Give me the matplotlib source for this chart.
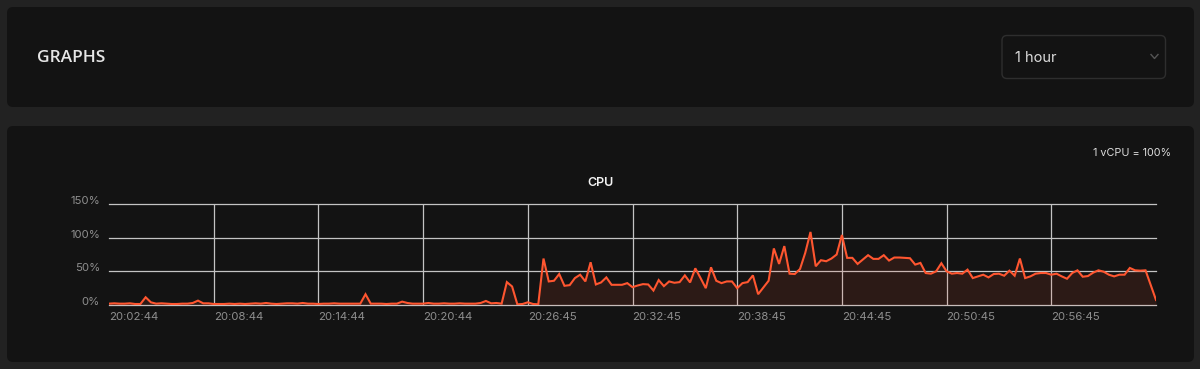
import matplotlib
matplotlib.use('Agg')
import matplotlib.pyplot as plt
from matplotlib.patches import FancyBboxPatch
from matplotlib.lines import Line2D
from matplotlib.transforms import IdentityTransform

# ---------------- data ----------------
title = "CPU"
header = "GRAPHS"
range_label = "1 hour"
note = "1 vCPU = 100%"

time_labels = ["20:02:44", "20:08:44", "20:14:44", "20:20:44", "20:26:45",
               "20:32:45", "20:38:45", "20:44:45", "20:50:45", "20:56:45"]
label_step = 20

y_ticks = [0, 50, 100, 150]
y_labels = ["0%", "50%", "100%", "150%"]

cpu_values = [
    2, 2.5, 2, 2, 2.5, 1.5, 1.5, 11.5, 4, 2,
    2.5, 2, 1.5, 1.5, 2, 2, 3, 6.5, 2.5, 2.5,
    1.5, 1.5, 1.5, 2, 1.5, 2, 1.5, 2, 2.5, 2,
    3, 2, 1.5, 2, 2.5, 2.5, 2, 3, 2, 2,
    1.5, 2, 2, 2.5, 2, 2, 2, 2, 2, 16,
    2, 2, 2, 1.5, 2, 2, 5, 3, 2, 2,
    2, 3, 2, 2, 2.5, 2, 2, 2.5, 2, 2,
    2, 3, 6, 2.5, 3, 2, 34, 27.5, 1, 1.5,
    4, 1.5, 1, 69, 35, 36, 46, 28.5, 29.5, 40,
    45, 35, 63.5, 30.5, 33.5, 41, 30, 30, 30, 32.5,
    26.5, 29, 31, 30.5, 21.5, 37, 28, 35, 33, 34,
    44, 33.5, 54.5, 40, 25, 56, 36, 32.5, 35, 35,
    25, 32.5, 34, 44, 16, 26, 36, 84, 61, 87.5,
    46.5, 46, 53.5, 77.5, 108.5, 57.5, 66.5, 65, 69, 75,
    104, 70, 70, 61, 67.5, 74, 68.5, 68.5, 74, 66,
    70.5, 70.5, 70, 69.5, 60, 62.5, 47.5, 46.5, 50, 62,
    50, 46.5, 47.5, 46.5, 52.5, 40, 42.5, 45, 41, 46,
    46.5, 43.5, 51, 43.5, 69, 40, 42.5, 46.5, 47.5, 47.5,
    45, 46.5, 42.5, 39, 47.5, 51.5, 42, 43, 48, 51.5,
    49.5, 45, 42.5, 45, 45, 55, 51.5, 51, 51.5, 29.5,
    7.5,
]

# ---------------- styling ----------------
W, H = 1200, 369
PAGE = '#222222'
PANEL = '#131313'
LINE = '#ff5630'
GRID = '#c4c4c4'
TICK = '#8e8e8e'

fig = plt.figure(figsize=(W / 100, H / 100), dpi=100)
fig.patch.set_facecolor(PAGE)
ident = IdentityTransform()


def rrect(x0, y0, x1, y1, r, fc, ec='none', lw=0):
    p = FancyBboxPatch((x0, H - y1), x1 - x0, y1 - y0,
                       boxstyle=f"round,pad=0,rounding_size={r}",
                       transform=ident, facecolor=fc, edgecolor=ec,
                       linewidth=lw, zorder=0)
    fig.add_artist(p)


def ptext(x, y, s, **kw):
    fig.text(x / W, 1 - y / H, s, **kw)


# panels
rrect(7, 7, 1194, 107, 6, PANEL)
rrect(7, 126, 1194, 362, 6, PANEL)

# header
ptext(37, 57.5, header, fontsize=12.5, fontweight='semibold', color='#e6e6e6',
      family='Open Sans', ha='left', va='center')

# select box
rrect(1002, 35.5, 1165.5, 78.5, 5, PANEL, ec='#2e2e2e', lw=1)
ptext(1015, 57.5, range_label, fontsize=10.5, color='#dcdcdc',
      family='Inter', ha='left', va='center')
fig.add_artist(Line2D([1151, 1154.5, 1158], [H - 54.5, H - 58.5, H - 54.5],
                      transform=ident, color='#555555', linewidth=1.0))

# note and title
ptext(1171, 152.5, note, fontsize=7.8, color='#dddddd', family='Inter',
      ha='right', va='center')
ptext(601, 182.5, title, fontsize=9, fontweight='semibold', color='#f2f2f2',
      family='Inter', ha='center', va='center')

# ---------------- chart ----------------
ax_l, ax_r, ax_t, ax_b = 109, 1156, 204, 305
ax = fig.add_axes([ax_l / W, 1 - ax_b / H, (ax_r - ax_l) / W, (ax_b - ax_t) / H])
ax.set_facecolor('none')
n = len(cpu_values)
xs = list(range(n))
ax.set_xlim(0, n - 1)
ax.set_ylim(0, 150)

for v in y_ticks:
    ax.axhline(v, color=GRID, linewidth=0.9, zorder=1, clip_on=False)
tick_pos = [i * label_step for i in range(len(time_labels))]
for p in tick_pos[1:]:
    ax.axvline(p, color=GRID, linewidth=0.9, zorder=1)

ax.fill_between(xs, cpu_values, 0, color=LINE, alpha=0.11, linewidth=0, zorder=2)
ax.plot(xs, cpu_values, color=LINE, linewidth=1.5, zorder=3,
        solid_joinstyle='miter')

for s in ax.spines.values():
    s.set_visible(False)

ax.set_xticks(tick_pos)
ax.set_xticklabels(time_labels, ha='left', fontsize=8.2, color=TICK, family='Inter')
ax.set_yticks(y_ticks)
ax.set_yticklabels(y_labels, fontsize=8.2, color=TICK, family='Inter')
for lbl in ax.get_yticklabels():
    lbl.set_va('baseline')
ax.tick_params(axis='x', length=0, pad=4.8)
ax.tick_params(axis='y', length=0, pad=6.5)

fig.savefig('out.png', dpi=100, facecolor=PAGE)
